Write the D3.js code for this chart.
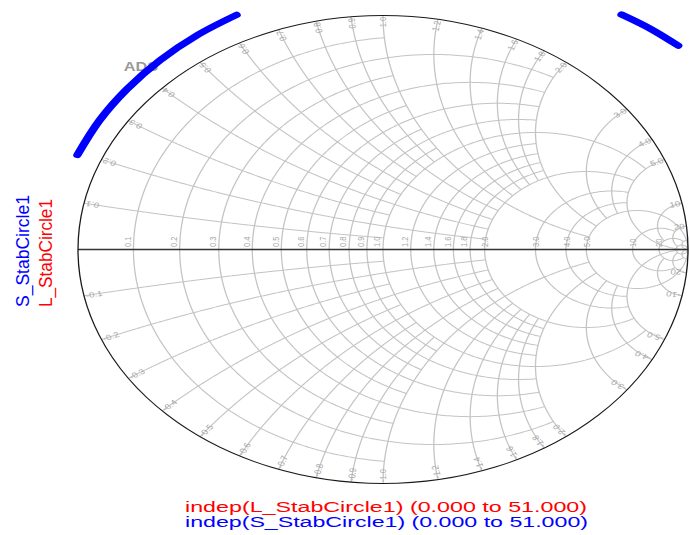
<!DOCTYPE html>
<html>
<head>
<meta charset="utf-8">
<script src="https://cdn.jsdelivr.net/npm/d3@7"></script>
<style>
  html, body { margin: 0; padding: 0; background: #fff; }
  svg { display: block; }
  text { font-family: "Liberation Sans", Arial, sans-serif; }
</style>
</head>
<body>
<svg id="chart" width="689" height="535"></svg>
<script>
// Smith chart grid: constant-resistance circles and how far (|x|) each one runs
const resistanceValues = [0.1, 0.2, 0.3, 0.4, 0.5, 0.6, 0.7, 0.8, 0.9, 1.0, 1.2, 1.4, 1.6, 1.8, 2.0, 3.0, 4.0, 5.0, 10, 20, 50];
const resistanceReach  = [1, 2, 1, 2, 1, 2, 1, 2, 1, 5, 2, 2, 2, 2, 5, 5, 5, Infinity, 20, 50, Infinity];
// constant-reactance arcs (drawn for +x and -x) and how far (r) each one runs
const reactanceValues = [0.1, 0.2, 0.3, 0.4, 0.5, 0.6, 0.7, 0.8, 0.9, 1.0, 1.2, 1.4, 1.6, 1.8, 2.0, 3.0, 4.0, 5.0, 10, 20, 50];
const reactanceReach  = [1, 2, 1, 2, 1, 2, 1, 2, 1, 5, 2, 2, 2, 2, 5, 5, 5, Infinity, 20, 50, Infinity];

// labels written along the real axis and around the rim
const resistanceTicks  = [0.1, 0.2, 0.3, 0.4, 0.5, 0.6, 0.7, 0.8, 0.9, 1.0, 1.2, 1.4, 1.6, 1.8, 2.0, 3.0, 4.0, 5.0, 10, 20];
const resistanceLabels = ["0.1", "0.2", "0.3", "0.4", "0.5", "0.6", "0.7", "0.8", "0.9", "1.0", "1.2", "1.4", "1.6", "1.8", "2.0", "3.0", "4.0", "5.0", "10", "20"];
const reactanceTicks   = [0.1, 0.2, 0.3, 0.4, 0.5, 0.6, 0.7, 0.8, 0.9, 1.0, 1.2, 1.4, 1.6, 1.8, 2.0, 3.0, 4.0, 5.0, 10, 20];
const reactanceLabels  = ["0.1", "0.2", "0.3", "0.4", "0.5", "0.6", "0.7", "0.8", "0.9", "1.0", "1.2", "1.4", "1.6", "1.8", "2.0", "3.0", "4.0", "5.0", "10", "20"];

// S_StabCircle1: the parts of the source stability circle inside the plot window (reflection coefficient)
const sStabArc1Re = [-1.002, -0.930, -0.839, -0.731, -0.608, -0.480];
const sStabArc1Im = [ 0.404,  0.551,  0.686,  0.809,  0.917,  1.003];
const sStabArc2Re = [ 0.782,  0.877,  0.968];
const sStabArc2Im = [ 1.004,  0.943,  0.871];
// L_StabCircle1 lies completely outside the plot window
const lStabRe = [];
const lStabIm = [];

const legendNames = ["S_StabCircle1", "L_StabCircle1"];
const sweepNotes  = ["indep(L_StabCircle1) (0.000 to 51.000)", "indep(S_StabCircle1) (0.000 to 51.000)"];

// ---------------------------------------------------------------------------
const stretchX = 305 / 234;          // the display is widened horizontally
const R = 234;
const cx = 383 / stretchX;
const cy = 249.5;

const svg = d3.select("#chart");
const root = svg.append("g").attr("transform", `scale(${stretchX},1)`);

const gx = d3.scaleLinear().domain([-1, 1]).range([cx - R, cx + R]);
const gy = d3.scaleLinear().domain([-1, 1]).range([cy + R, cy - R]);

// normalized impedance r + jx  ->  reflection coefficient
function gamma(r, x) {
  if (!isFinite(r) || !isFinite(x)) return [1, 0];
  const d = (r + 1) * (r + 1) + x * x;
  return [(r * r + x * x - 1) / d, 2 * x / d];
}

const line = d3.line().x(d => gx(d[0])).y(d => gy(d[1]));
const N = 360;

function resistancePath(r, reach) {
  const uMax = Math.atan(reach);
  const pts = d3.range(N + 1).map(i => {
    const u = -uMax + 2 * uMax * i / N;
    const x = Math.abs(u) >= Math.PI / 2 - 1e-9 ? Infinity : Math.tan(u);
    return gamma(r, x);
  });
  return line(pts);
}

function reactancePath(x, reach) {
  const sMax = isFinite(reach) ? reach / (1 + reach) : 1;
  const pts = d3.range(N + 1).map(i => {
    const s = sMax * i / N;
    const r = s >= 1 ? Infinity : s / (1 - s);
    return gamma(r, x);
  });
  return line(pts);
}

const grid = root.append("g")
  .attr("fill", "none")
  .attr("stroke", "#c4c4c4")
  .attr("stroke-width", 1);

resistanceValues.forEach((r, i) => {
  grid.append("path").attr("d", resistancePath(r, resistanceReach[i]));
});
reactanceValues.forEach((x, i) => {
  grid.append("path").attr("d", reactancePath(x, reactanceReach[i]));
  grid.append("path").attr("d", reactancePath(-x, reactanceReach[i]));
});

// real axis
root.append("line")
  .attr("x1", gx(-1)).attr("x2", gx(1))
  .attr("y1", gy(0)).attr("y2", gy(0))
  .attr("stroke", "#333").attr("stroke-width", 1.6);

// rim |Γ| = 1
root.append("circle")
  .attr("cx", gx(0)).attr("cy", gy(0)).attr("r", gx(1) - gx(0))
  .attr("fill", "none").attr("stroke", "#1a1a1a").attr("stroke-width", 1);

// resistance labels on the real axis
const labelColor = "#a8a8a8";
const rLab = root.append("g").attr("fill", labelColor).attr("font-size", 7.5);
resistanceTicks.forEach((r, i) => {
  const px = gx(gamma(r, 0)[0]);
  const bx = r >= 2 ? px + 2.7 : px - 2.1;
  const by = gy(0) - 2.5;
  rLab.append("text")
    .attr("transform", `translate(${bx},${by}) rotate(-90)`)
    .attr("text-anchor", "start")
    .text(resistanceLabels[i]);
});

// reactance labels around the rim
const xLab = root.append("g").attr("fill", labelColor).attr("font-size", 7.5);
reactanceTicks.forEach((x, i) => {
  [1, -1].forEach(sign => {
    const g = gamma(0, sign * x);
    const a = Math.atan2(g[1], g[0]);
    const inset = 0.006;
    const px = gx(g[0] * (1 - inset));
    const py = gy(g[1] * (1 - inset));
    let rot, anchor;
    if (sign > 0) {              // upper half: text runs outward to the rim
      rot = Math.atan2(-Math.sin(a), Math.cos(a)) * 180 / Math.PI;
      anchor = "end";
    } else {                     // lower half: text runs inward from the rim
      rot = Math.atan2(Math.sin(a), -Math.cos(a)) * 180 / Math.PI;
      anchor = "start";
    }
    xLab.append("text")
      .attr("transform", `translate(${px},${py}) rotate(${rot})`)
      .attr("text-anchor", anchor)
      .attr("dy", "0.35em")
      .text((sign < 0 ? "-" : "") + reactanceLabels[i]);
  });
});

// watermark
root.append("text")
  .attr("x", 95).attr("y", 71)
  .attr("font-size", 12.5).attr("font-weight", "bold")
  .attr("fill", "#9a9a9a")
  .text("ADS");

// traces
const traceLine = d3.line().x(d => gx(d[0])).y(d => gy(d[1])).curve(d3.curveCatmullRom);
const traces = root.append("g")
  .attr("fill", "none")
  .attr("stroke-width", 6.3)
  .attr("stroke-linecap", "round")
  .attr("stroke-linejoin", "round");

[[sStabArc1Re, sStabArc1Im], [sStabArc2Re, sStabArc2Im]].forEach(([re, im]) => {
  traces.append("path")
    .attr("stroke", "#0000ff")
    .attr("d", traceLine(re.map((v, k) => [v, im[k]])));
});
if (lStabRe.length) {
  traces.append("path")
    .attr("stroke", "#ff0000")
    .attr("d", traceLine(lStabRe.map((v, k) => [v, lStabIm[k]])));
}

// trace names, written upward on the left
const names = root.append("g").attr("font-size", 14.5);
names.append("text")
  .attr("transform", `translate(22.3,307) rotate(-90)`)
  .attr("fill", "#0000ff")
  .attr("textLength", 112).attr("lengthAdjust", "spacingAndGlyphs")
  .text(legendNames[0]);
names.append("text")
  .attr("transform", `translate(40,307) rotate(-90)`)
  .attr("fill", "#ff0000")
  .attr("textLength", 108).attr("lengthAdjust", "spacingAndGlyphs")
  .text(legendNames[1]);

// sweep ranges under the chart
const notes = root.append("g").attr("font-size", 14.5);
notes.append("text")
  .attr("x", 185 / stretchX).attr("y", 512)
  .attr("fill", "#ff0000")
  .attr("textLength", 402 / stretchX).attr("lengthAdjust", "spacingAndGlyphs")
  .text(sweepNotes[0]);
notes.append("text")
  .attr("x", 185 / stretchX).attr("y", 527)
  .attr("fill", "#0000ff")
  .attr("textLength", 403 / stretchX).attr("lengthAdjust", "spacingAndGlyphs")
  .text(sweepNotes[1]);
</script>
</body>
</html>
